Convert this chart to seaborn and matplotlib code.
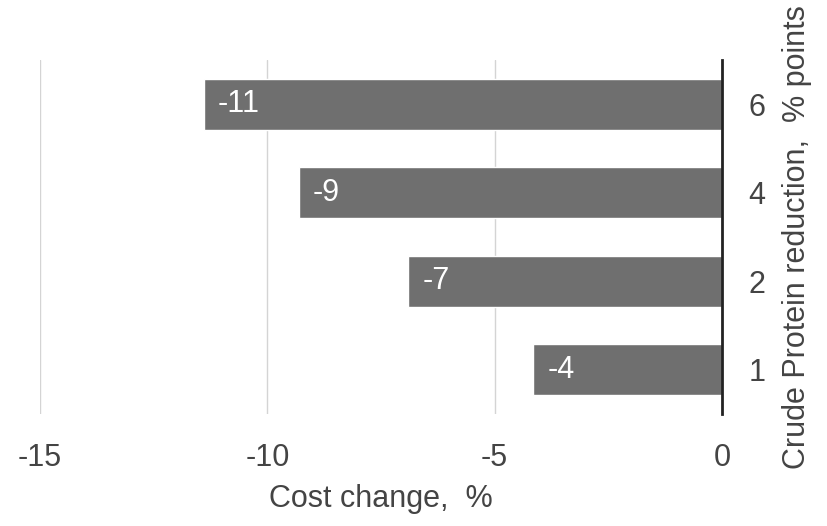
import numpy as np
import pandas as pd
import matplotlib
matplotlib.use('Agg')
import matplotlib.pyplot as plt
import seaborn as sns

# data
cp_reduction = ['6', '4', '2', '1']
cost_change = [-11.4, -9.3, -6.9, -4.15]
bar_labels = ['-11', '-9', '-7', '-4']

df = pd.DataFrame({'reduction': cp_reduction, 'cost': cost_change})

sns.set_style('white')
plt.rcParams['font.family'] = ['Liberation Sans', 'DejaVu Sans']
plt.rcParams['axes.unicode_minus'] = False

fig = plt.figure(figsize=(8.27, 5.26), dpi=100)
ax = fig.add_axes([40 / 827, 1 - 414 / 526, 682 / 827, 354 / 526])

sns.barplot(data=df, x='cost', y='reduction', order=cp_reduction, orient='h',
            color='#6f6f6f', saturation=1, width=0.58, ax=ax)

for i, (v, lab) in enumerate(zip(cost_change, bar_labels)):
    ax.annotate(lab, xy=(v, i), xytext=(10, 0), textcoords='offset points',
                ha='left', va='center', color='white', fontsize=22)

ax.set_xlim(-15, 0)
ax.set_ylim(3.5, -0.5)
ax.set_xticks([-15, -10, -5, 0])
ax.grid(axis='x', color='#d4d4d4', lw=1)
ax.set_axisbelow(True)

for s in ['top', 'left', 'bottom']:
    ax.spines[s].set_visible(False)
ax.spines['right'].set_color('#222222')
ax.spines['right'].set_linewidth(2)

ax.yaxis.tick_right()
ax.yaxis.set_label_position('right')
ax.tick_params(axis='x', length=0, pad=21, labelsize=22, labelcolor='#444444')
ax.tick_params(axis='y', length=0, pad=19, labelsize=22, labelcolor='#444444')

ax.set_xlabel('Cost change,  %', fontsize=22, color='#444444', labelpad=8)
ax.set_ylabel('Crude Protein reduction,  % points', fontsize=22, color='#444444',
              rotation=90, labelpad=12)

fig.savefig('out.png', dpi=100)
